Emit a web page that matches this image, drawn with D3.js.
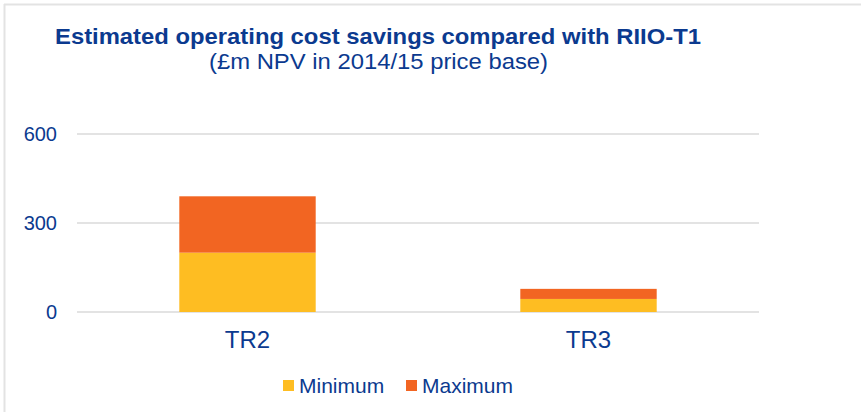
<!DOCTYPE html>
<html>
<head>
<meta charset="utf-8">
<script src="https://cdn.jsdelivr.net/npm/d3@7"></script>
<style>
  body { margin: 0; background: #fff; }
  svg { display: block; font-family: "Liberation Sans", Arial, sans-serif; }
</style>
</head>
<body>
<svg id="chart" width="861" height="412"></svg>
<script>
// data
const categories = ['TR2', 'TR3'];
const minimum = [200, 44];
const maximum = [190, 34];
const seriesNames = ['Minimum', 'Maximum'];
const seriesColors = ['#FEBD22', '#F26522'];
const yTicks = [0, 300, 600];

const textColor = '#0b3a8f';
const gridColor = '#e3e3e3';

const svg = d3.select('#chart');

// outer frame (top and left lines only visible)
svg.append('line').attr('x1', 4).attr('x2', 861).attr('y1', 4.5).attr('y2', 4.5)
  .style('stroke', gridColor).style('stroke-width', 2);
svg.append('line').attr('x1', 4.5).attr('x2', 4.5).attr('y1', 4).attr('y2', 412)
  .style('stroke', gridColor).style('stroke-width', 2);

// titles (reference font is a bit condensed, so stretch to its width)
svg.append('text')
  .attr('x', 378).attr('y', 43.5)
  .attr('text-anchor', 'middle')
  .attr('textLength', 646).attr('lengthAdjust', 'spacingAndGlyphs')
  .style('font-size', '22px').style('font-weight', 'bold')
  .style('fill', textColor)
  .text('Estimated operating cost savings compared with RIIO-T1');
svg.append('text')
  .attr('x', 378.5).attr('y', 68.5)
  .attr('text-anchor', 'middle')
  .attr('textLength', 339).attr('lengthAdjust', 'spacingAndGlyphs')
  .style('font-size', '22px')
  .style('fill', textColor)
  .text('(£m NPV in 2014/15 price base)');

const plot = { left: 77, right: 759, top: 134, bottom: 312 };

const x = d3.scaleBand()
  .domain(categories)
  .range([plot.left, plot.right])
  .paddingInner(0.6)
  .paddingOuter(0.3);

const y = d3.scaleLinear()
  .domain([0, 600])
  .range([plot.bottom, plot.top]);

// gridlines
svg.append('g')
  .selectAll('line')
  .data(yTicks)
  .enter()
  .append('line')
    .attr('x1', plot.left).attr('x2', plot.right)
    .attr('y1', d => y(d)).attr('y2', d => y(d))
    .style('stroke', gridColor).style('stroke-width', 2);

// y axis labels
const yAxis = d3.axisLeft(y).tickValues(yTicks).tickSize(0).tickPadding(0);
svg.append('g')
  .attr('transform', 'translate(57,0)')
  .call(yAxis)
  .call(g => g.select('.domain').remove())
  .selectAll('text')
    .style('font-size', '20px')
    .style('font-family', '"Liberation Sans", Arial, sans-serif')
    .style('fill', textColor);

// stacked bars
const rows = categories.map((c, i) => ({ cat: c, Minimum: minimum[i], Maximum: maximum[i] }));
const stack = d3.stack().keys(seriesNames)(rows);

svg.append('g')
  .selectAll('g')
  .data(stack)
  .enter()
  .append('g')
    .style('fill', (d, i) => seriesColors[i])
  .selectAll('rect')
  .data(d => d)
  .enter()
  .append('rect')
    .attr('x', d => x(d.data.cat))
    .attr('width', x.bandwidth())
    .attr('y', d => y(d[1]))
    .attr('height', d => y(d[0]) - y(d[1]));

// x axis labels
const xAxis = d3.axisBottom(x).tickSize(0).tickPadding(0);
svg.append('g')
  .attr('transform', 'translate(0,' + (plot.bottom + 19) + ')')
  .call(xAxis)
  .call(g => g.select('.domain').remove())
  .selectAll('text')
    .style('font-size', '24px')
    .style('font-family', '"Liberation Sans", Arial, sans-serif')
    .style('fill', textColor);

// legend
const legendX = [283, 406];
const legend = svg.append('g')
  .selectAll('g')
  .data(seriesNames)
  .enter()
  .append('g')
    .attr('transform', (d, i) => 'translate(' + legendX[i] + ',380)');
legend.append('rect')
  .attr('width', 11).attr('height', 11)
  .style('fill', (d, i) => seriesColors[i]);
legend.append('text')
  .attr('x', 16).attr('y', 12.5)
  .style('font-size', '21px')
  .style('fill', textColor)
  .text(d => d);
</script>
</body>
</html>
